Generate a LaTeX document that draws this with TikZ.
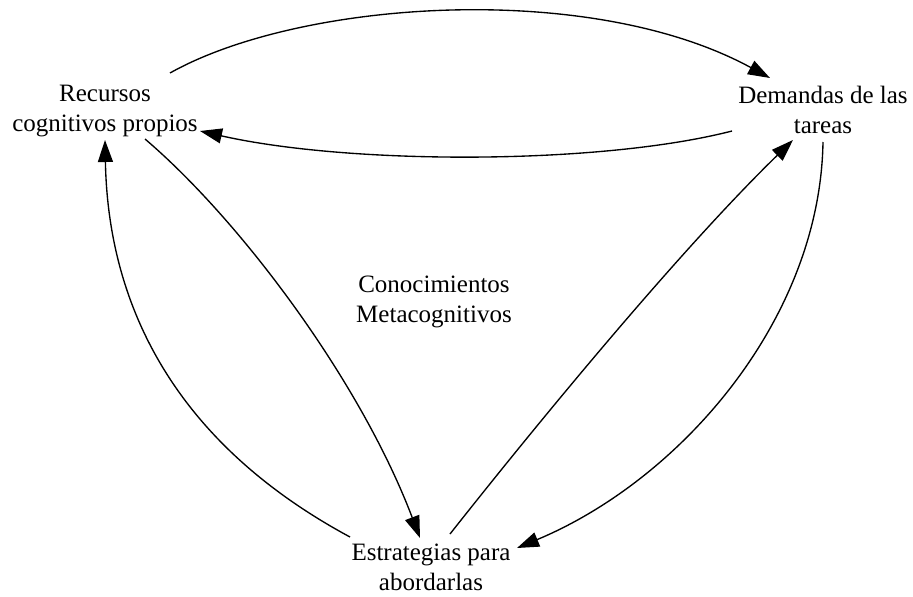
\documentclass[tikz,border=0pt]{standalone}
\usepackage{fontspec}
\setmainfont{Liberation Serif}
\usetikzlibrary{arrows.meta}
\begin{document}
\begin{tikzpicture}[x=1pt,y=-1pt,
  lbl/.style={align=center,inner sep=0pt,font=\fontsize{25}{30}\selectfont},
  link/.style={line width=1.35pt,-{Triangle[length=22pt,width=15pt]}}]
\useasboundingbox (0,0) rectangle (913,597);

% concepts
\node[lbl] (rec)  at (105,111) {Recursos\\cognitivos propios};
\node[lbl] (dem)  at (823,110) {Demandas de las\\tareas};
\node[lbl] (est)  at (431,567) {Estrategias para\\abordarlas};
\node[lbl] (meta) at (434,302) {Conocimientos\\Metacognitivos};

% upper pair of arcs
\draw[link] ([shift={(65,-38)}]rec.center)
  .. controls (300,0) and (590,-20) .. ([shift={(-53,-32)}]dem.center);
\draw[link] ([shift={(-91,21)}]dem.center)
  .. controls (600,165) and (350,165) .. ([shift={(95,20)}]rec.center);

% left pair of arcs
\draw[link] ([shift={(40,28)}]rec.center)
  .. controls (240,220) and (360,380) .. ([shift={(-11,-29)}]est.center);
\draw[link] ([shift={(-81,-30)}]est.center)
  .. controls (170,440) and (108,300) .. ([shift={(0,29)}]rec.center);

% right pair of arcs
\draw[link] ([shift={(19,-33)}]est.center)
  .. controls (540,420) and (680,250) .. ([shift={(-30,30)}]dem.center);
\draw[link] ([shift={(0,32)}]dem.center)
  .. controls (820,320) and (680,480) .. ([shift={(86,-19)}]est.center);
\end{tikzpicture}
\end{document}
